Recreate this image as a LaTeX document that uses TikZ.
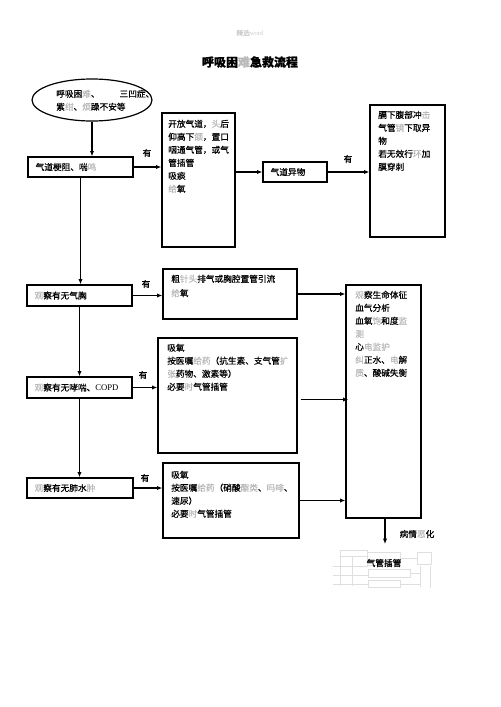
\documentclass[tikz,border=0pt]{standalone}
\usepackage{fontspec}
\setmainfont[FakeBold=0.5]{Noto Sans CJK SC}
\newfontfamily\tms{Liberation Serif}
\usetikzlibrary{arrows.meta}
\usetikzlibrary{fit}
\usetikzlibrary{shapes.geometric}
\newcommand{\lt}[1]{\textcolor{gray!55}{#1}}

\begin{document}
\begin{tikzpicture}[x=0.75pt,y=-0.75pt,
    box/.style={draw,line width=0.9pt,inner sep=0pt},
    txt/.style={inner sep=0pt,anchor=north west,align=left,font=\fontsize{6.5}{9.75}\selectfont},
    lbl/.style={inner sep=0pt,anchor=west,font=\fontsize{6.5}{8}\selectfont},
    yes/.style={inner sep=0pt,font=\fontsize{6.5}{8}\selectfont},
    arr/.style={line width=0.8pt,-{Latex[length=4pt,width=3.2pt]}},
    faint/.style={gray!25,line width=0.4pt}]
    \useasboundingbox (0,0) rectangle (500,707);

    \node[inner sep=0pt,font=\fontsize{5}{6}\selectfont,gray!40] (hdr) at (250,33) {精选{\tms word}};
    \node[inner sep=0pt,font=\fontsize{9}{11}\selectfont\bfseries] (ttl) at (250,62) {呼吸困\lt{难}急救流程};

    \node[ellipse,draw,line width=0.9pt,minimum width=90pt,minimum height=31.5pt,inner sep=0pt] (ell) at (92,100) {};
    \node[txt] (ellt) at (56,89.5) {呼吸困\lt{难}、\hspace{15pt}三凹症、\\紫\lt{绀}、\lt{烦}躁不安等};

    \node[box,fit={(28,157) (133,177)}] (gz) {};
    \node[lbl] (gzt) at ([xshift=6pt]gz.west) {气道梗阻、喘\lt{鸣}};
    \node[box,fit={(162,113) (235,247)}] (kf) {};
    \node[txt] (kft) at (168,119.5) {开放气道，\lt{头}后\\仰高下\lt{颌}，置口\\咽通气管，或气\\管插管\\吸痰\\\lt{给}氧};
    \node[box,fit={(263,162) (327,182)}] (yw) {};
    \node[lbl] (ywt) at ([xshift=6pt]yw.west) {气道异物};
    \node[box,fit={(370,105) (445,237)}] (gx) {};
    \node[txt] (gxt) at (378,110.5) {膈下腹部冲\lt{击}\\气管\lt{镜}下取异\\物\\若无效行\lt{环}加\\膜穿刺};

    \node[box,fit={(27,285) (132,306)}] (qx) {};
    \node[lbl] (qxt) at ([xshift=6pt]qx.west) {\lt{观}察有无气胸};
    \node[box,fit={(163,269) (297,319)}] (cz) {};
    \node[txt] (czt) at (171,274.5) {粗\lt{针头}排气或胸腔置管引流\\[1pt]\lt{给}氧};

    \node[box,fit={(27,377) (132,398)}] (xc) {};
    \node[lbl] (xct) at ([xshift=6pt]xc.west) {\lt{观}察有无哮喘、{\tms COPD}};
    \node[box,fit={(158,338) (297,453)}] (xy) {};
    \node[txt] (xyt) at (167,343.5) {吸氧\\按医嘱\lt{给药}（抗生素、支气管\lt{扩}\\\lt{张}药物、激素等）\\必要\lt{时}气管插管};

    \node[box,fit={(27,478) (133,498)}] (fs) {};
    \node[lbl] (fst) at ([xshift=6pt]fs.west) {\lt{观}察有无肺水\lt{肿}};
    \node[box,fit={(163,463) (299,538)}] (fy) {};
    \node[txt] (fyt) at (171,470.5) {吸氧\\按医嘱\lt{给药}（硝酸\lt{酯类}、\lt{吗啡}、\\速尿）\\必要\lt{时}气管插管};

    \node[box,fit={(346,285) (421,518)}] (gc) {};
    \node[txt] (gct) at (355,290.5) {\lt{观}察生命体征\\血气分析\\血氧\lt{饱}和度\lt{监}\\\lt{测}\\心\lt{电监护}\\\lt{纠}正水、\lt{电}解\\\lt{质}、酸碱失衡};

    \draw[arr] (ell.south) -- (ell.south |- gz.north);
    \draw[arr] (gz.south) -- (gz.south |- qx.north);
    \draw[arr] (qx.south) -- (qx.south |- xc.north);
    \draw[arr] (xc.south) -- (xc.south |- fs.north);

    \draw[arr] (gz.east) -- (gz.east -| kf.west);
    \draw[arr] (kf.east |- yw.west) -- (yw.west);
    \draw[arr] (yw.east) -- (yw.east -| gx.west);
    \draw[arr] (qx.east) -- (qx.east -| cz.west);
    \draw[arr] (cz.east) -- (cz.east -| gc.west);
    \draw[arr] (xc.east) -- (xc.east -| xy.west);
    \draw[arr] ([shift={(3,4)}]xy.east) -- ([shift={(3,4)}]xy.east -| gc.west);
    \draw[arr] (fs.east) -- (fs.east -| fy.west);
    \draw[arr] (fy.east) -- (fy.east -| gc.west);

    \node[yes] (y1) at (147,153) {有};
    \node[yes] (y2) at (348,159) {有};
    \node[yes] (y3) at (146,284) {有};
    \node[yes] (y4) at (143,375) {有};
    \node[yes] (y5) at (145,478) {有};

    \draw[faint] (340,550) rectangle (367,556);
    \draw[faint] (367,552) rectangle (400,565);
    \draw[faint] (400,558) -- (417,558);
    \draw[faint] (417,552) rectangle (431,564);
    \draw[faint] (340,556) -- (340,586);
    \draw[faint] (352,556) -- (352,586);
    \draw[faint] (333,566) -- (368,566);
    \draw[faint] (333,575) -- (368,575);
    \draw[faint] (333,584) -- (368,584);
    \draw[faint] (368,569) rectangle (410,577);
    \draw[faint] (368,580) rectangle (400,587);
    \draw[faint] (410,573) -- (420,573);
    \draw[faint] (400,584) -- (420,584);
    \draw[faint] (420,566) -- (420,587);
    \draw[faint] (430,566) -- (430,588);

    \coordinate (gcend) at (385,544);
    \draw[arr] (gc.south -| gcend) -- (gcend);
    \node[inner sep=0pt,font=\fontsize{6.5}{8}\selectfont] (bq) at (417,534) {病情\lt{恶}化};
    \node[inner sep=0pt,font=\fontsize{6.5}{8}\selectfont] (cg) at (384,563) {气管插管};

\end{tikzpicture}
\end{document}
